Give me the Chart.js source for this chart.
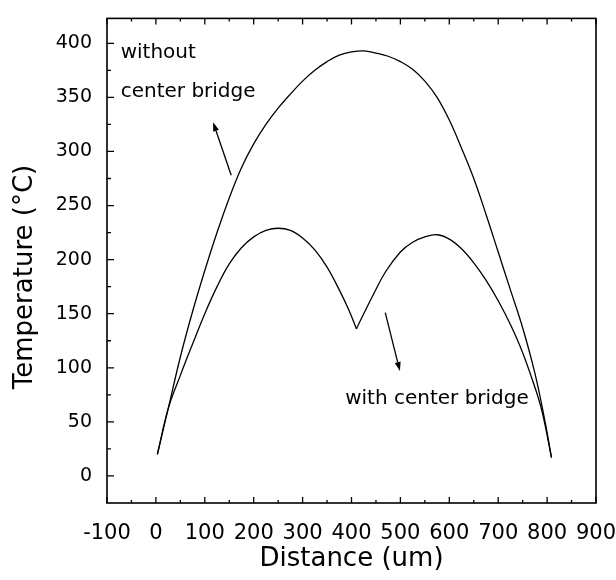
<!DOCTYPE html>
<html>
<head>
<meta charset="utf-8">
<script src="https://cdn.jsdelivr.net/npm/chart.js@4"></script>
<style>
  body { margin: 0; background: #fff; }
  #wrap { width: 616px; height: 580px; }
</style>
</head>
<body>
<div id="wrap"><canvas id="tempChart"></canvas></div>
<script>
// Temperature along the beam
const xWithout = [3, 25, 50, 75, 100, 125, 150, 175, 200, 225, 250, 275, 300, 325, 350, 375, 400, 425,
                  450, 475, 500, 525, 550, 575, 600, 625, 650, 675, 700, 725, 750, 775, 795, 809];
const yWithout = [20, 62, 110, 152, 190, 225, 257, 285, 307, 325, 340, 353, 365, 375, 383, 389, 392, 393,
                  391, 388, 383, 376, 365, 350, 329, 303, 275, 242, 207, 172, 137, 95, 52, 17];

// with the bridge the curve has a sharp notch at the centre, kept as two halves
const xWithLeft = [3, 25, 50, 75, 100, 125, 150, 175, 200, 225, 250, 275, 300, 325, 350, 375, 395, 410];
const yWithLeft = [20, 62, 93, 122, 150, 175, 196, 211, 221, 227, 229, 227, 220, 209, 193, 172, 153, 136];
const xWithRight = [410, 425, 445, 470, 500, 525, 550, 575, 600, 625, 650, 675, 700, 725, 750, 775, 790, 809];
const yWithRight = [136, 150, 168, 189, 207, 216, 221, 223, 219, 210, 197, 181, 162, 140, 114, 82, 59, 17];

// axis ticks
const xLabels = [-100, 0, 100, 200, 300, 400, 500, 600, 700, 800, 900];
const xMinor = [-50, 50, 150, 250, 350, 450, 550, 650, 750, 850];
const yLabels = [0, 50, 100, 150, 200, 250, 300, 350, 400];
const yMinor = [25, 75, 125, 175, 225, 275, 325, 375];

const FONT = 'DejaVu Sans';

// text notes and arrows, in data units
const notes = [
    { text: 'without', x: -72, y: 391 },
    { text: 'center bridge', x: -72, y: 355 },
    { text: 'with center bridge', x: 387, y: 71 }
];
const arrows = [
    { from: [154, 278], to: [117, 327] },
    { from: [469, 151], to: [499, 97] }
];

const toPoints = (xs, ys) => xs.map((x, i) => ({ x: x, y: ys[i] }));

const curve = (label, points) => ({
    label: label,
    data: points,
    borderColor: '#000',
    borderWidth: 1.3,
    pointRadius: 0,
    fill: false,
    tension: 0.4
});

const framePlugin = {
    id: 'frame',
    afterDraw(chart) {
        const ctx = chart.ctx;
        const a = chart.chartArea;
        const sx = chart.scales.x;
        const sy = chart.scales.y;
        ctx.save();
        ctx.strokeStyle = '#000';
        ctx.fillStyle = '#000';

        // box
        ctx.lineWidth = 1.6;
        ctx.strokeRect(a.left, a.top, a.right - a.left, a.bottom - a.top);

        // inward ticks, bottom + top
        ctx.lineWidth = 1.3;
        ctx.beginPath();
        xLabels.concat(xMinor).forEach(v => {
            const len = xLabels.includes(v) ? 6 : 3;
            const px = sx.getPixelForValue(v);
            ctx.moveTo(px, a.bottom); ctx.lineTo(px, a.bottom - len);
            ctx.moveTo(px, a.top); ctx.lineTo(px, a.top + len);
        });
        // inward ticks, left
        yLabels.concat(yMinor).forEach(v => {
            const len = yLabels.includes(v) ? 7 : 4;
            const py = sy.getPixelForValue(v);
            ctx.moveTo(a.left, py); ctx.lineTo(a.left + len, py);
        });
        ctx.stroke();

        // notes
        ctx.font = '20px "' + FONT + '"';
        ctx.textAlign = 'left';
        ctx.textBaseline = 'middle';
        notes.forEach(n => {
            ctx.fillText(n.text, sx.getPixelForValue(n.x), sy.getPixelForValue(n.y));
        });

        // arrows
        ctx.lineWidth = 1.3;
        arrows.forEach(ar => {
            const x1 = sx.getPixelForValue(ar.from[0]), y1 = sy.getPixelForValue(ar.from[1]);
            const x2 = sx.getPixelForValue(ar.to[0]), y2 = sy.getPixelForValue(ar.to[1]);
            const ang = Math.atan2(y2 - y1, x2 - x1);
            const hl = 9, hw = 3;
            const bx = x2 - hl * Math.cos(ang), by = y2 - hl * Math.sin(ang);
            ctx.beginPath();
            ctx.moveTo(x1, y1); ctx.lineTo(bx, by);
            ctx.stroke();
            ctx.beginPath();
            ctx.moveTo(x2, y2);
            ctx.lineTo(bx + hw * Math.sin(ang), by - hw * Math.cos(ang));
            ctx.lineTo(bx - hw * Math.sin(ang), by + hw * Math.cos(ang));
            ctx.closePath();
            ctx.fill();
        });

        // y axis title (sits a little below the axis centre in the original)
        ctx.translate(25, 277);
        ctx.rotate(-Math.PI / 2);
        ctx.font = '26px "' + FONT + '"';
        ctx.textAlign = 'center';
        ctx.fillText('Temperature (°C)', 0, 0);
        ctx.restore();
    }
};

const ctxTemp = document.getElementById('tempChart').getContext('2d');
const tempChart = new Chart(ctxTemp, {
    type: 'line',
    data: {
        datasets: [
            curve('without center bridge', toPoints(xWithout, yWithout)),
            curve('with center bridge', toPoints(xWithLeft, yWithLeft)),
            curve('with center bridge ', toPoints(xWithRight, yWithRight))
        ]
    },
    options: {
        responsive: true,
        maintainAspectRatio: false,
        animation: false,
        layout: {
            padding: { top: 8, right: 20, left: 0, bottom: 0 }
        },
        scales: {
            x: {
                type: 'linear',
                min: -100,
                max: 900,
                afterBuildTicks: s => { s.ticks = xLabels.map(v => ({ value: v })); },
                afterFit: s => {
                    s.height = 77;
                    s.paddingLeft = 0;
                    s.paddingRight = 0;
                },
                grid: { display: false },
                border: { display: false },
                ticks: {
                    color: '#000',
                    padding: 10,
                    maxRotation: 0,
                    autoSkip: false,
                    font: { family: FONT, size: 21 }
                },
                title: {
                    display: true,
                    text: 'Distance (um)',
                    color: '#000',
                    padding: { top: 0, bottom: 5 },
                    font: { family: FONT, size: 26 }
                }
            },
            y: {
                min: -25,
                max: 423,
                afterBuildTicks: s => { s.ticks = yLabels.map(v => ({ value: v })); },
                afterFit: s => { s.width = 107; },
                grid: { display: false },
                border: { display: false },
                ticks: {
                    color: '#000',
                    padding: 7,
                    font: { family: FONT, size: 19 }
                }
            }
        },
        plugins: {
            legend: { display: false },
            tooltip: { enabled: false }
        }
    },
    plugins: [framePlugin]
});
</script>
</body>
</html>
